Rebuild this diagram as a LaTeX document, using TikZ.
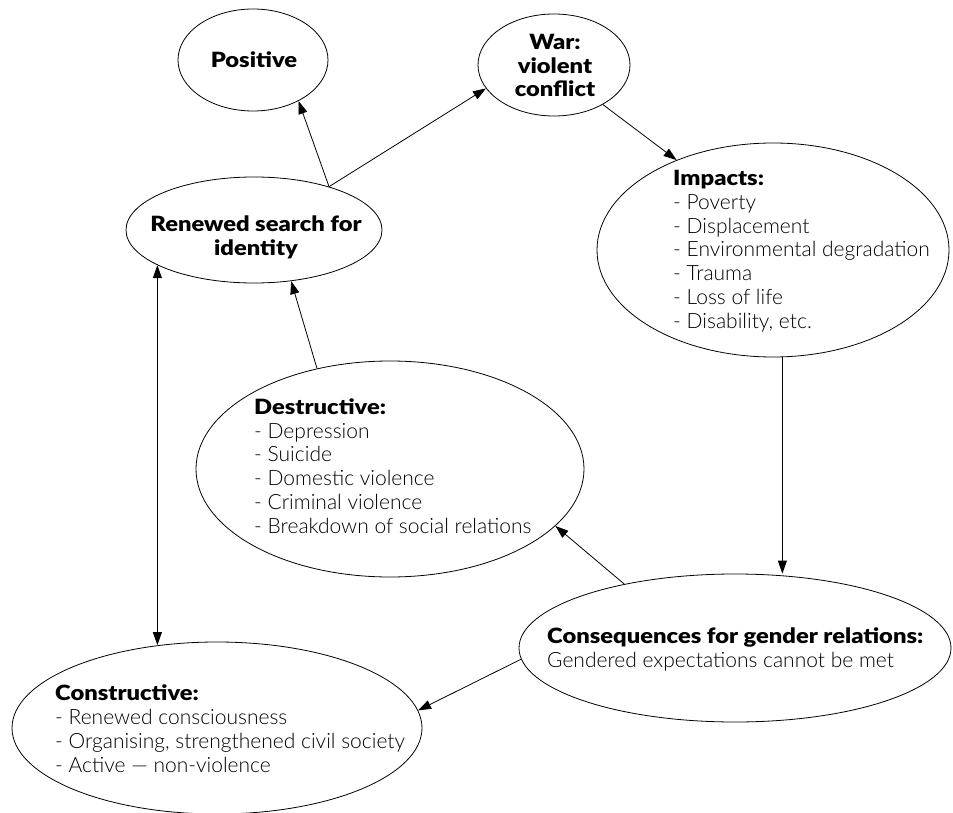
\documentclass[tikz,border=0pt]{standalone}
\usepackage{fontspec}
\usetikzlibrary{shapes.geometric,arrows.meta}
\IfFontExistsTF{Lato Light}{%
  \IfFontExistsTF{Lato Black}{%
    \setmainfont{Lato Light}[BoldFont=Lato Black,BoldFeatures={FakeStretch=1.13}]}{%
    \setmainfont{Lato Light}[BoldFont=Lato Bold,BoldFeatures={FakeStretch=1.18}]}}{%
  \setmainfont{Lato}}
\tikzset{
  ell/.style={draw, ellipse, inner sep=0pt, line width=0.8pt},
  txt/.style={inner sep=0pt, align=left, anchor=base west, font=\fontsize{21}{23.7}\selectfont},
  ctxt/.style={inner sep=0pt, align=center, anchor=base, font=\fontsize{21}{23.7}\selectfont\bfseries},
  arr/.style={-{Triangle[length=13pt,width=9pt]}, line width=0.8pt},
  darr/.style={{Triangle[length=13pt,width=9pt]}-{Triangle[length=13pt,width=9pt]}, line width=0.8pt}
}
\begin{document}
\begin{tikzpicture}[x=1pt,y=-1pt]
\useasboundingbox (0,0) rectangle (953,813);
% ellipses
\node[ell, minimum width=150pt, minimum height=102pt] (pos) at (253,60) {};
\node[ell, minimum width=152pt, minimum height=102pt] (war) at (554,65) {};
\node[ell, minimum width=256pt, minimum height=106pt] (ren) at (254,230) {};
\node[ell, minimum width=352pt, minimum height=214pt] (imp) at (773,250) {};
\node[ell, minimum width=388pt, minimum height=216pt] (dest) at (390,469) {};
\node[ell, minimum width=432pt, minimum height=148pt] (cons) at (735,648) {};
\node[ell, minimum width=410pt, minimum height=172pt] (constr) at (217,728) {};
% texts (anchor base = baseline of last line)
\node[ctxt] (posT) at (254,68) {Positive};
\node[ctxt] (warT) at (555,97) {War:\\violent\\conflict};
\node[ctxt] (renT) at (256,255) {Renewed search for\\identity};
\node[txt] (impT) at (673,328) {\textbf{Impacts:}\\- Poverty\\- Displacement\\- Environmental degradation\\- Trauma\\- Loss of life\\- Disability, etc.};
\node[txt] (destT) at (254,533) {\textbf{Destructive:}\\- Depression\\- Suicide\\- Domestic violence\\- Criminal violence\\- Breakdown of social relations};
\node[txt] (consT) at (547,667) {\textbf{Consequences for gender relations:}\\Gendered expectations cannot be met};
\node[txt] (constrT) at (55,772) {\textbf{Constructive:}\\- Renewed consciousness\\- Organising, strengthened civil society\\- Active --- non-violence};
% connectors
\draw[arr] (ren.30) -- (pos.-42);
\draw[arr] (ren.30) -- (war.199);
\draw[arr] (war.-39) -- (imp.137);
\draw[arr] (imp.-85) -- (imp.-85 |- cons.north);
\draw[arr] (cons.150.5) -- (dest.-19.4);
\draw[arr] (cons.183.2) -- (constr.5.9);
\draw[arr] (dest.126.9) -- (ren.-54.8);
\draw[darr] (ren.200) -- (ren.200 |- constr.125.6);
\end{tikzpicture}
\end{document}
